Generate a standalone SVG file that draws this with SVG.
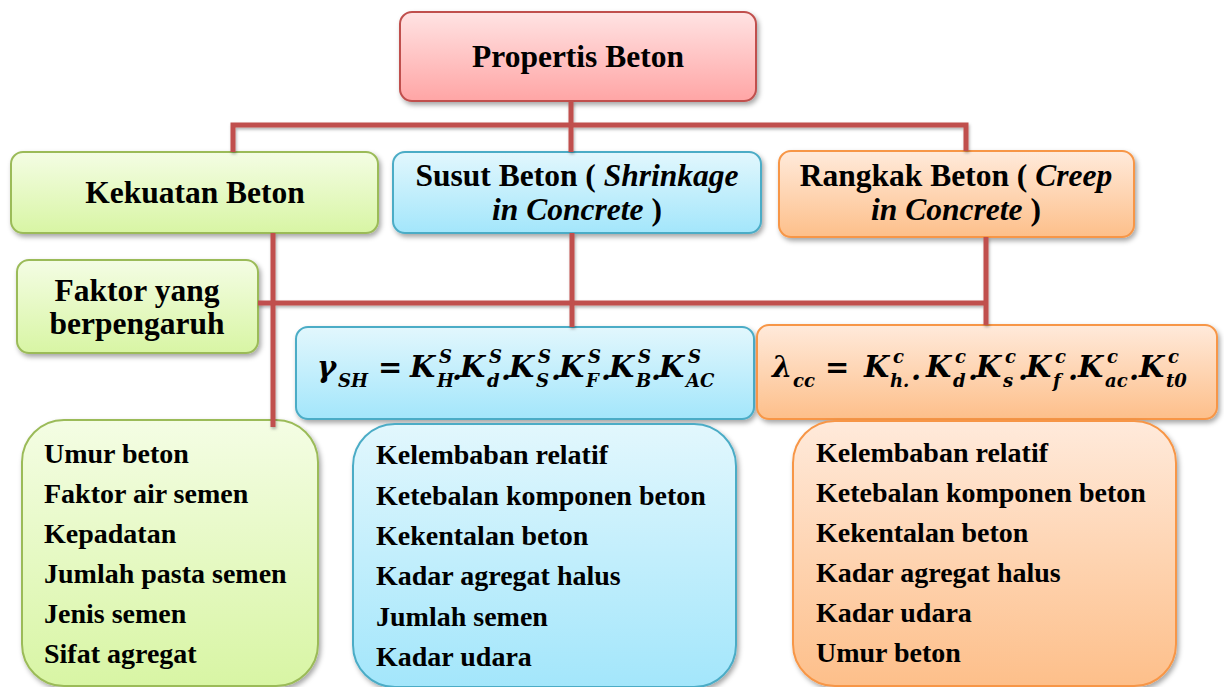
<svg xmlns="http://www.w3.org/2000/svg" width="1224" height="687" viewBox="0 0 1224 687">
<defs>
<linearGradient id="gRed" x1="0" y1="0" x2="0" y2="1"><stop offset="0" stop-color="#ffe3e3"/><stop offset="1" stop-color="#ffa5a5"/></linearGradient>
<linearGradient id="gGreen" x1="0" y1="0" x2="0" y2="1"><stop offset="0" stop-color="#f4fde4"/><stop offset="1" stop-color="#d8f5a4"/></linearGradient>
<linearGradient id="gBlue" x1="0" y1="0" x2="0" y2="1"><stop offset="0" stop-color="#e2f7fd"/><stop offset="1" stop-color="#a3e6fb"/></linearGradient>
<linearGradient id="gOrange" x1="0" y1="0" x2="0" y2="1"><stop offset="0" stop-color="#ffeadb"/><stop offset="1" stop-color="#fdbf8a"/></linearGradient>
<filter id="sh" x="-10%" y="-10%" width="120%" height="130%"><feDropShadow dx="2" dy="3" stdDeviation="2.5" flood-color="#000" flood-opacity="0.35"/></filter>
<filter id="lsh" filterUnits="userSpaceOnUse" x="0" y="0" width="1224" height="687"><feDropShadow dx="1" dy="2" stdDeviation="1.5" flood-color="#000" flood-opacity="0.3"/></filter>
</defs>
<style>
.box{stroke-width:2;filter:url(#sh)}
.red{fill:url(#gRed);stroke:#c0504d}
.green{fill:url(#gGreen);stroke:#9bbb59}
.blue{fill:url(#gBlue);stroke:#4bacc6}
.orange{fill:url(#gOrange);stroke:#f79646}
.h{font-weight:bold;font-size:31.5px;fill:#000;text-anchor:middle}
.it{font-style:italic}
.t{font-weight:bold;font-size:28px;fill:#000}
.m{font-family:'DejaVu Serif','Liberation Serif',serif;font-weight:bold;font-style:italic;font-size:29px;fill:#000}
.s{font-size:18px}
.up{font-style:normal}
.con{fill:none;stroke:#c0504d;stroke-width:5}
</style>

<g font-family="'Liberation Serif', 'DejaVu Serif', 'Times New Roman', serif">
<g id="node-propertis">
<rect class="box red" x="400" y="12" width="356" height="89" rx="12"/>
<text class="h" x="578" y="67">Propertis Beton</text>
</g>

<g id="node-kekuatan">
<rect class="box green" x="11" y="152" width="367" height="81" rx="12"/>
<text class="h" x="195" y="203">Kekuatan Beton</text>
</g>

<g id="node-susut">
<rect class="box blue" x="393" y="152" width="368" height="81" rx="12"/>
<text class="h" x="577" y="186">Susut Beton ( <tspan class="it">Shrinkage</tspan></text>
<text class="h" x="577" y="220"><tspan class="it">in Concrete</tspan> )</text>
</g>

<g id="node-rangkak">
<rect class="box orange" x="779" y="151" width="355" height="86" rx="12"/>
<text class="h" x="956" y="186">Rangkak Beton ( <tspan class="it">Creep</tspan></text>
<text class="h" x="956" y="220"><tspan class="it">in Concrete</tspan> )</text>
</g>

<g id="node-faktor">
<rect class="box green" x="17" y="260" width="241" height="93" rx="12"/>
<text class="h" x="137" y="301">Faktor yang</text>
<text class="h" x="137" y="334">berpengaruh</text>
</g>

<g id="node-formula-sh">
<rect class="box blue" x="296" y="327" width="458" height="92" rx="12"/>
<text class="m" x="317" y="377">γ<tspan class="s" x="338" y="387">SH</tspan><tspan class="up" x="378" y="377">=</tspan><tspan x="410" y="377">K</tspan><tspan class="s" x="439" y="363">S</tspan><tspan class="s" x="437" y="387">H</tspan><tspan x="452" y="380">.</tspan><tspan x="460" y="377">K</tspan><tspan class="s" x="489" y="363">S</tspan><tspan class="s" x="487" y="387">d</tspan><tspan x="501" y="380">.</tspan><tspan x="509" y="377">K</tspan><tspan class="s" x="538" y="363">S</tspan><tspan class="s" x="536" y="387">S</tspan><tspan x="551" y="380">.</tspan><tspan x="559" y="377">K</tspan><tspan class="s" x="588" y="363">S</tspan><tspan class="s" x="586" y="387">F</tspan><tspan x="601" y="380">.</tspan><tspan x="609" y="377">K</tspan><tspan class="s" x="638" y="363">S</tspan><tspan class="s" x="636" y="387">B</tspan><tspan x="651" y="380">.</tspan><tspan x="659" y="377">K</tspan><tspan class="s" x="688" y="363">S</tspan><tspan class="s" x="686" y="387">AC</tspan></text>
</g>

<g id="node-formula-cc">
<rect class="box orange" x="757" y="325" width="460" height="94" rx="12"/>
<text class="m" x="772" y="377">λ<tspan class="s" x="793" y="387">cc</tspan><tspan class="up" x="825" y="377">=</tspan><tspan x="864" y="377">K</tspan><tspan class="s" x="893" y="363">c</tspan><tspan class="s" x="890" y="387">h.</tspan><tspan x="911" y="380">.</tspan><tspan x="926" y="377">K</tspan><tspan class="s" x="955" y="363">c</tspan><tspan class="s" x="953" y="387">d</tspan><tspan x="968" y="380">.</tspan><tspan x="976" y="377">K</tspan><tspan class="s" x="1005" y="363">c</tspan><tspan class="s" x="1003" y="387">s</tspan><tspan x="1018" y="380">.</tspan><tspan x="1026" y="377">K</tspan><tspan class="s" x="1055" y="363">c</tspan><tspan class="s" x="1053" y="387">f</tspan><tspan x="1068" y="380">.</tspan><tspan x="1078" y="377">K</tspan><tspan class="s" x="1107" y="363">c</tspan><tspan class="s" x="1105" y="387">ac</tspan><tspan x="1129" y="380">.</tspan><tspan x="1139" y="377">K</tspan><tspan class="s" x="1168" y="363">c</tspan><tspan class="s" x="1166" y="387">t0</tspan></text>
</g>

<g id="node-list-kekuatan">
<rect class="box green" x="22" y="420" width="296" height="266" rx="42"/>
<text class="t" x="44" y="463">Umur beton</text>
<text class="t" x="44" y="503">Faktor air semen</text>
<text class="t" x="44" y="543">Kepadatan</text>
<text class="t" x="44" y="583">Jumlah pasta semen</text>
<text class="t" x="44" y="623">Jenis semen</text>
<text class="t" x="44" y="663">Sifat agregat</text>
</g>

<g id="node-list-susut">
<rect class="box blue" x="353" y="424" width="383" height="263" rx="42"/>
<text class="t" x="376" y="464">Kelembaban relatif</text>
<text class="t" x="376" y="505">Ketebalan komponen beton</text>
<text class="t" x="376" y="545">Kekentalan beton</text>
<text class="t" x="376" y="585">Kadar agregat halus</text>
<text class="t" x="376" y="626">Jumlah semen</text>
<text class="t" x="376" y="666">Kadar udara</text>
</g>

<g id="node-list-rangkak">
<rect class="box orange" x="793" y="421" width="383" height="265" rx="42"/>
<text class="t" x="816" y="462">Kelembaban relatif</text>
<text class="t" x="816" y="502">Ketebalan komponen beton</text>
<text class="t" x="816" y="542">Kekentalan beton</text>
<text class="t" x="816" y="582">Kadar agregat halus</text>
<text class="t" x="816" y="622">Kadar udara</text>
<text class="t" x="816" y="662">Umur beton</text>
</g>
</g>

<g id="connectors" filter="url(#lsh)">
<path class="con" d="M571,101 V152"/>
<path class="con" d="M233,152 V125 H966 V151"/>
<path class="con" d="M273,233 V427"/>
<path class="con" d="M258,303 H986"/>
<path class="con" d="M986,237 V325"/>
<path class="con" d="M572,233 V327"/>
</g>
</svg>
